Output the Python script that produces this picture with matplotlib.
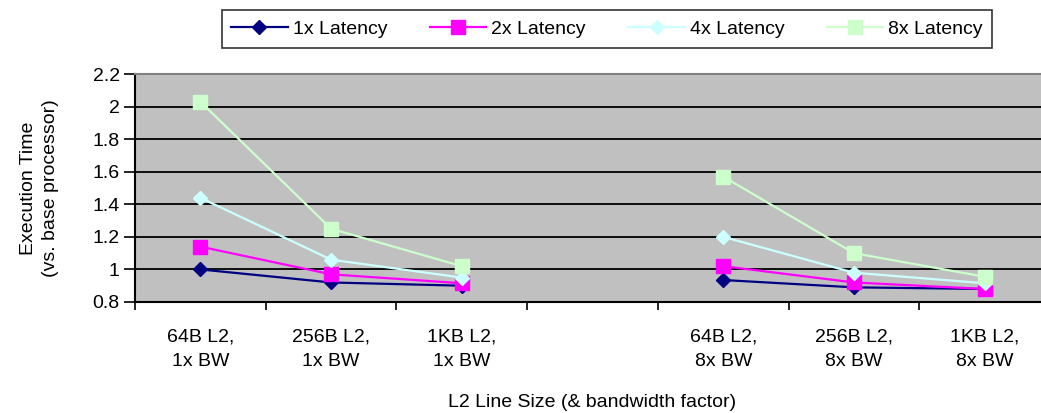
import matplotlib.pyplot as plt
import numpy as np

plt.rcParams["font.family"] = ["Liberation Sans", "DejaVu Sans"]
plt.rcParams["font.size"] = 14

# Categories (blank slot separates the two bandwidth groups)
categories = ["64B L2,\n1x BW", "256B L2,\n1x BW", "1KB L2,\n1x BW", "",
              "64B L2,\n8x BW", "256B L2,\n8x BW", "1KB L2,\n8x BW"]

# Execution time vs. base processor (None = empty slot)
lat_1x = [1.00, 0.92, 0.90, None, 0.935, 0.89, 0.88]
lat_2x = [1.14, 0.97, 0.915, None, 1.02, 0.92, 0.88]
lat_4x = [1.44, 1.06, 0.95, None, 1.20, 0.98, 0.915]
lat_8x = [2.03, 1.25, 1.02, None, 1.57, 1.10, 0.955]

series = [
    ("1x Latency", lat_1x, "#000080", "D", 7.5),
    ("2x Latency", lat_2x, "#FF00FF", "s", 9.5),
    ("4x Latency", lat_4x, "#CCFFFF", "D", 7.5),
    ("8x Latency", lat_8x, "#CCFFCC", "s", 9.5),
]

fig = plt.figure(figsize=(10.41, 4.13), dpi=100)
ax = fig.add_axes([135 / 1041, 111 / 413, 915 / 1041, 228 / 413])
ax.set_facecolor("#C0C0C0")

x = np.arange(len(categories))
handles = []
for name, vals, color, marker, ms in series:
    y = np.array([np.nan if v is None else v for v in vals], dtype=float)
    h, = ax.plot(x, y, color=color, lw=1.6, marker=marker, markersize=ms,
                 markeredgecolor=color, markerfacecolor=color, label=name, zorder=3)
    handles.append(h)

ax.set_xlim(-0.5, len(categories) - 0.5)
ax.set_ylim(0.8, 2.2)
ax.set_yticks(np.arange(0.8, 2.21, 0.2))
ax.set_yticklabels(["0.8", "1", "1.2", "1.4", "1.6", "1.8", "2", "2.2"])
ax.yaxis.grid(True, color="black", lw=1.3)
ax.set_axisbelow(True)

ax.set_xticks(x)
ax.set_xticklabels(categories, linespacing=1.6)
ax.set_xticks(np.arange(-0.5, len(categories)), minor=True)
ax.tick_params(axis="x", which="major", length=0, pad=19)
ax.tick_params(axis="x", which="minor", length=6, width=1.2, direction="out")
ax.tick_params(axis="y", length=8, width=1.2, direction="out", pad=3)

for s in ["left", "bottom"]:
    ax.spines[s].set_color("black")
    ax.spines[s].set_linewidth(1.5)
ax.spines["top"].set_color("#808080")
ax.spines["top"].set_linewidth(1.5)
ax.spines["right"].set_visible(False)

ax.set_ylabel("Execution Time\n(vs. base processor)", labelpad=24, linespacing=1.4)
ax.set_xlabel("L2 Line Size (& bandwidth factor)", labelpad=17)

leg = fig.legend(handles=handles, ncol=4, loc="center",
                 bbox_to_anchor=(607 / 1041, 1 - 29 / 413),
                 frameon=True, fancybox=False, edgecolor="black",
                 handlelength=2.9, columnspacing=2.2, handletextpad=0.25,
                 borderpad=0.5)
leg.get_frame().set_linewidth(1.2)

fig.savefig("out.png", dpi=100)
